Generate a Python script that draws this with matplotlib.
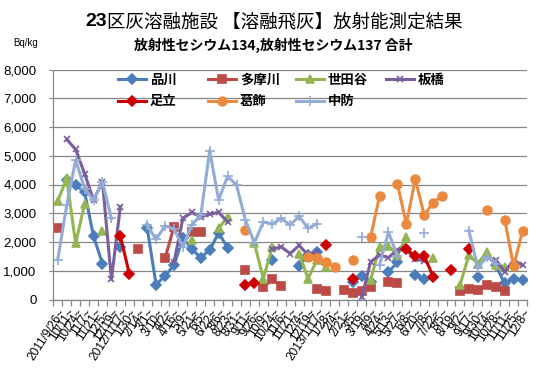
import numpy as np
import matplotlib
matplotlib.use("Agg")
import matplotlib.pyplot as plt
from matplotlib.ticker import FixedLocator, FuncFormatter

plt.rcParams['font.family'] = ['Liberation Sans', 'Noto Sans CJK JP', 'DejaVu Sans']
JP = ['Noto Sans CJK JP', 'DejaVu Sans']

dates = ["2011/9/26~", "10/11~", "10/24~", "11/7~", "11/21~", "12/5~", "12/19~",
         "2012/1/17~", "1/30~", "2/14~", "3/1~", "3/10~", "4/2~", "4/16~", "5/9~",
         "5/21~", "6/5~", "6/22~", "8/6~", "8/23~", "8/31~", "9/11~", "9/26~",
         "10/9~", "10/24~", "11/6~", "11/21~", "12/4~", "12/19~", "2013/1/17~",
         "1/28~", "2/4~", "2/21~", "3/5~", "3/19~", "4/9~", "4/24~", "5/13~",
         "5/27~", "6/8~", "6/20~", "7/8~", "7/22~", "8/5~", "8/19~", "9/2~",
         "9/17~", "9/30~", "10/14~", "10/28~", "11/11~", "11/25~", "12/8~"]

# values in Bq/kg, index -> value (missing weeks left out)
shinagawa = {1: 4170, 2: 3980, 3: 3740, 4: 2200, 5: 1250, 7: 1810, 10: 2500, 11: 520,
             12: 820, 13: 1190, 14: 2150, 15: 1750, 16: 1460, 17: 1720, 18: 2320,
             19: 1800, 24: 1390, 27: 1160, 28: 1540, 29: 1660, 33: 600, 34: 830,
             35: 610, 37: 960, 38: 1290, 40: 850, 41: 730, 47: 790, 49: 1190,
             50: 560, 51: 730, 52: 670}
tamagawa = {0: 2500, 9: 1770, 12: 1430, 13: 2530, 15: 2350, 16: 2350, 21: 1020,
            23: 420, 24: 700, 25: 460, 29: 380, 30: 300, 32: 320, 33: 240, 34: 300,
            35: 420, 37: 610, 38: 560, 45: 300, 46: 360, 47: 320, 48: 500, 49: 420,
            50: 300}
setagaya = {0: 3430, 1: 4210, 2: 1950, 3: 3320, 5: 2400, 15: 2080, 18: 2470, 19: 2880,
            22: 1950, 23: 730, 24: 1830, 27: 1600, 28: 730, 29: 1370, 30: 1140,
            35: 670, 36: 1830, 37: 1850, 38: 1550, 39: 2180, 42: 1460, 45: 500,
            46: 1540, 47: 1250, 48: 1660, 49: 1200, 50: 1140}
itabashi = {1: 5570, 2: 5220, 3: 4380, 4: 3460, 5: 4090, 6: 700, 7: 3220, 13: 1300,
            14: 2820, 15: 3030, 16: 2870, 17: 2970, 18: 3030, 19: 2700, 24: 1750,
            25: 1830, 26: 1600, 27: 1880, 28: 1550, 29: 1650, 34: 70, 35: 1310,
            36: 1540, 37: 1460, 38: 1720, 39: 1740, 40: 1400, 41: 1350, 49: 1370,
            50: 960, 51: 1370, 52: 1190}
adachi = {7: 2210, 8: 900, 21: 500, 22: 590, 30: 1890, 33: 700, 39: 1770, 40: 1500,
          41: 1520, 42: 790, 44: 1020, 46: 1750}
katsushika = {21: 2410, 28: 1480, 29: 1460, 30: 1290, 31: 1140, 33: 1370, 35: 2160,
              36: 3600, 38: 4030, 39: 2620, 40: 4190, 41: 2930, 42: 3370, 43: 3610,
              48: 3130, 50: 2780, 51: 1160, 52: 2380}
chubo = {0: 1390, 1: 3280, 2: 4850, 3: 3860, 4: 3450, 5: 4090, 6: 2820, 10: 2590,
         11: 2090, 12: 2560, 13: 2450, 14: 1830, 15: 2600, 16: 2930, 17: 5180,
         18: 3460, 19: 4290, 20: 3980, 21: 2760, 22: 1970, 23: 2700, 24: 2620,
         25: 2820, 26: 2590, 27: 2900, 28: 2470, 29: 2640, 34: 2180, 36: 1200,
         37: 2350, 38: 1500, 41: 2300, 46: 2400, 47: 1100, 48: 1480, 49: 1250}

n = len(dates)
x = np.arange(n)

def arr(d):
    a = np.full(n, np.nan)
    for k, v in d.items():
        a[k] = v
    return a

series = [
    ("品川", shinagawa, '#4A7DBA', 'D', 5.0),
    ("多摩川", tamagawa, '#BC4A47', 's', 5.3),
    ("世田谷", setagaya, '#93B653', '^', 6.3),
    ("板橋", itabashi, '#7B5E9E', 'x', 5),
    ("足立", adachi, '#CC0000', 'D', 5.0),
    ("葛飾", katsushika, '#EB8A3E', 'o', 6.3),
    ("中防", chubo, '#93ACD5', '+', 6.5),
]

fig = plt.figure(figsize=(5.38, 3.70), dpi=100)
ax = fig.add_axes([53.3/538, 1-299.5/370, (527-53.3)/538, (299.5-69.5)/370])

lines = {}
for name, d, c, m, ms in series:
    ln, = ax.plot(x, arr(d), color=c, lw=2.2, marker=m, ms=ms, mfc=c, mec=c,
                  mew=1.2, label=name)
    lines[name] = ln

ax.set_xlim(-0.5, n - 0.5)
ax.set_ylim(0, 8000)
ax.set_yticks(np.arange(0, 8001, 1000))
ax.yaxis.set_major_formatter(FuncFormatter(lambda v, p: f"{int(v):,}"))
ax.grid(axis='y', color='#868686', lw=0.9)
ax.set_axisbelow(True)
for s in ['top', 'right']:
    ax.spines[s].set_visible(False)
for s in ['left', 'bottom']:
    ax.spines[s].set_color('#868686')
    ax.spines[s].set_linewidth(0.9)
ax.tick_params(axis='y', length=3, color='#868686', pad=9, labelsize=9.5)

ax.set_xticks(x)
ax.set_xticklabels(dates, rotation=57, ha='right', va='top',
                   rotation_mode='anchor', fontsize=8.6)
ax.tick_params(axis='x', which='major', length=0, pad=5)
ax.xaxis.set_minor_locator(FixedLocator(np.arange(-0.5, n, 1.0)))
ax.tick_params(axis='x', which='minor', length=4, color='#868686', width=0.9)

# legend: four columns laid out like the original
cols = [("品川", "足立"), ("多摩川", "葛飾"), ("世田谷", "中防"), ("板橋",)]
col_x = [118, 208, 296, 386]
for i, (cx, names) in enumerate(zip(col_x, cols)):
    leg = ax.legend([lines[k] for k in names], list(names),
                    loc='upper left', bbox_to_anchor=(cx/538, 1-73/370),
                    bbox_transform=fig.transFigure, frameon=False,
                    prop={'family': JP, 'weight': 'bold', 'size': 9.6},
                    handlelength=2.1, handletextpad=0.3, labelspacing=0.55,
                    borderpad=0, borderaxespad=0)
    if i < 3:
        ax.add_artist(leg)

fig.text(107/538, 1-22/370, "23", ha='right', va='center', fontsize=14,
         weight='bold')
fig.text(107/538, 1-22/370, "区灰溶融施設 【溶融飛灰】放射能測定結果",
         ha='left', va='center', fontsize=13.3, family=JP)
fig.text(273/538, 1-45/370, "放射性セシウム134,放射性セシウム137 合計",
         ha='center', va='center', fontsize=10, weight='bold', family=JP)
fig.text(13/538, 1-43/370, "Bq/kg", ha='left', va='center', fontsize=7)

fig.savefig("out.png", dpi=100)
